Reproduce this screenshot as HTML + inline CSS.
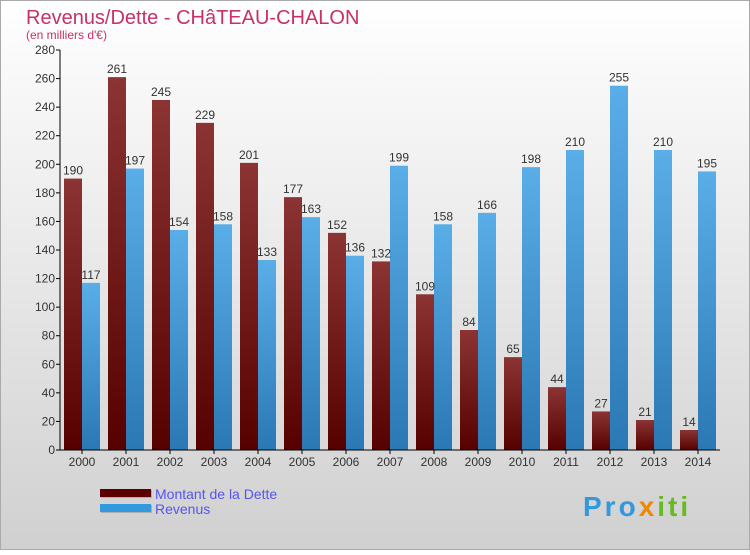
<!DOCTYPE html>
<html><head><meta charset="utf-8"><style>
body{margin:0;width:750px;height:550px;overflow:hidden;font-family:"Liberation Sans",sans-serif}
</style></head><body>
<svg width="750" height="550" xmlns="http://www.w3.org/2000/svg" id="chart">
<defs>
<linearGradient id="bg" x1="0" y1="0" x2="0" y2="1"><stop offset="0" stop-color="#ffffff"/><stop offset="1" stop-color="#d0d0d0"/></linearGradient>
<linearGradient id="gd" x1="0" y1="0" x2="0" y2="1"><stop offset="0" stop-color="#8c3434"/><stop offset="1" stop-color="#560000"/></linearGradient>
<linearGradient id="gr" x1="0" y1="0" x2="0" y2="1"><stop offset="0" stop-color="#5aaee8"/><stop offset="1" stop-color="#2a78b4"/></linearGradient>
</defs>
<rect x="0.5" y="0.5" width="749" height="549" fill="url(#bg)" stroke="#aaa"/>
<text x="26" y="24" font-size="20" fill="#c8306a">Revenus/Dette - CHâTEAU-CHALON</text>
<text x="26" y="39" font-size="12" fill="#c8306a">(en milliers d'€)</text>
<g id="grid"></g><g id="bars"></g><g id="axes"></g>
<rect x="101" y="490" width="51" height="8" fill="#888" opacity="0.5"/>
<rect x="100" y="489" width="51" height="8" fill="#5a0000"/>
<text x="155" y="499" font-size="14" fill="#5555ee">Montant de la Dette</text>
<rect x="101" y="505" width="51" height="8" fill="#888" opacity="0.5"/>
<rect x="100" y="504" width="51" height="8" fill="#3399dd"/>
<text x="155" y="514" font-size="14" fill="#5555ee">Revenus</text>
<text x="583" y="516" font-size="28" font-weight="bold" letter-spacing="3" fill="#3399dd">Pro<tspan fill="#ee8800">x</tspan><tspan fill="#66bb22">iti</tspan></text>
</svg>
<script>
const years=["2000","2001","2002","2003","2004","2005","2006","2007","2008","2009","2010","2011","2012","2013","2014"];
const dette=[190,261,245,229,201,177,152,132,109,84,65,44,27,21,14];
const revenus=[117,197,154,158,133,163,136,199,158,166,198,210,255,210,195];
const yTicks=[0,20,40,60,80,100,120,140,160,180,200,220,240,260,280];
const NS="http://www.w3.org/2000/svg";
const x0=60,gw=44,y0=450,yMax=280,ph=400;
function y(v){return y0-v/yMax*ph;}
function gx(i){return x0+i*gw;}
function mk(tag,attrs,parent,txt){const e=document.createElementNS(NS,tag);for(const k in attrs)e.setAttribute(k,attrs[k]);if(txt!==undefined)e.textContent=txt;document.getElementById(parent).appendChild(e);return e;}
yTicks.forEach(t=>{
 const l=mk("line",{x1:x0-4,x2:x0,y1:y(t),y2:y(t),stroke:"#000"},"axes");
 
 
 const tx=mk("text",{x:x0-5,y:y(t)+4,"font-size":12,fill:"#333","text-anchor":"end"},"axes",t);
 
 
});
years.forEach((yr,i)=>{
 const bx=gx(i)+4;
 const d=mk("rect",{x:bx,y:y(dette[i]),width:18,height:y0-y(dette[i]),fill:"url(#gd)"},"bars");
 
 
 const r=mk("rect",{x:bx+18,y:y(revenus[i]),width:18,height:y0-y(revenus[i]),fill:"url(#gr)"},"bars");
 
 
 const dl=mk("text",{x:bx+9,y:y(dette[i])-4,"font-size":12,fill:"#333","text-anchor":"middle"},"bars",dette[i]);
 
 
 const rl=mk("text",{x:bx+27,y:y(revenus[i])-4,"font-size":12,fill:"#333","text-anchor":"middle"},"bars",revenus[i]);
 
 
 const tk=mk("line",{x1:bx+18,x2:bx+18,y1:y0,y2:y0+4,stroke:"#000"},"axes");
 
 
 const xl=mk("text",{x:bx+18,y:y0+16,"font-size":12,fill:"#333","text-anchor":"middle"},"axes",yr);
 
 
});
const ya=mk("line",{x1:x0,x2:x0,y1:y(yMax),y2:y0,stroke:"#000"},"axes");


const xa=mk("line",{x1:x0,x2:x0+gw*years.length,y1:y0,y2:y0,stroke:"#000"},"axes");


</script>
</body></html>
